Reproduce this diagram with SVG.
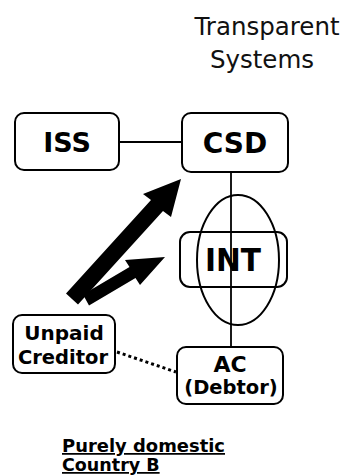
<svg xmlns="http://www.w3.org/2000/svg" width="348" height="475" viewBox="0 0 348 475">
<style>
.box{fill:#fff;stroke:#000;stroke-width:2}
.lbl{font-family:"DejaVu Sans",Verdana,sans-serif;font-weight:bold;fill:#000;text-anchor:middle}
.ttl{font-family:"DejaVu Sans",Verdana,sans-serif;fill:#111;text-anchor:middle;font-size:24.5px}
.ln{stroke:#000;stroke-width:1.8;fill:none}
.cap{text-anchor:start;text-decoration:underline}
</style>
<rect width="348" height="475" fill="#fff"/>
<g id="title">
<text class="ttl" x="267" y="35">Transparent</text>
<text class="ttl" x="262" y="68">Systems</text>
</g>
<g id="connectors">
<line class="ln" x1="119" y1="142" x2="182" y2="142"/>
<line class="ln" x1="231" y1="172" x2="231" y2="347"/>
<line x1="117" y1="352" x2="176" y2="372" stroke="#000" stroke-width="3" stroke-dasharray="3 3"/>
<polygon fill="#000" points="66,293.6 151,200.1 143,194 181,179 171,217 163,210.9 78,304.4"/>
<polygon fill="#000" points="83,294.5 129.5,267 125,260 165,257 140,285 135.5,278 89,305.5"/>
</g>
<g id="ISS">
<rect class="box" x="15" y="113" width="104" height="57" rx="9"/>
<text class="lbl" x="67" y="152" font-size="27">ISS</text>
</g>
<g id="CSD">
<rect class="box" x="182" y="113" width="106" height="59" rx="9"/>
<text class="lbl" x="235" y="153" font-size="28">CSD</text>
</g>
<g id="INT">
<rect x="180" y="232" width="107" height="55" rx="10" fill="none" stroke="#000" stroke-width="2"/>
<ellipse cx="238" cy="260" rx="41" ry="65" fill="none" stroke="#000" stroke-width="2"/>
<text class="lbl" x="233" y="271" font-size="32" textLength="56" lengthAdjust="spacingAndGlyphs">INT</text>
</g>
<g id="UnpaidCreditor">
<rect class="box" x="13" y="315" width="102" height="58" rx="9"/>
<text class="lbl" x="64" y="340" font-size="20">Unpaid</text>
<text class="lbl" x="63" y="364" font-size="19.5">Creditor</text>
</g>
<g id="AC">
<rect class="box" x="177" y="347" width="106" height="57" rx="9"/>
<text class="lbl" x="230" y="372" font-size="22">AC</text>
<text class="lbl" x="231" y="394" font-size="19.5">(Debtor)</text>
</g>
<g id="caption">
<text class="lbl cap" x="62" y="452" font-size="17.5" textLength="163" lengthAdjust="spacingAndGlyphs">Purely domestic</text>
<text class="lbl cap" x="62" y="471" font-size="17.5">Country B</text>
</g>
</svg>
